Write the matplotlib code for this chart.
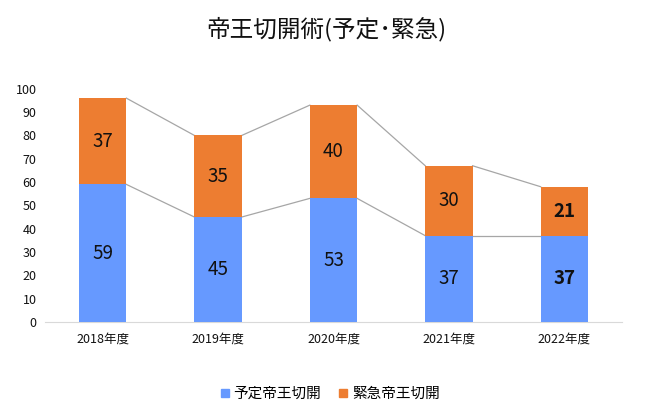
import matplotlib
matplotlib.use("Agg")
import matplotlib.pyplot as plt
from matplotlib.lines import Line2D

plt.rcParams['font.family'] = ['Noto Sans CJK JP', 'DejaVu Sans']

categories = ["2018年度", "2019年度", "2020年度", "2021年度", "2022年度"]
planned = [59, 45, 53, 37, 37]
emergency = [37, 35, 40, 30, 21]
series_names = ["予定帝王切開", "緊急帝王切開"]
title = "帝王切開術(予定･緊急)"
yticks = list(range(0, 101, 10))

blue = "#6699FF"
orange = "#ED7D31"
width = 0.41

fig = plt.figure(figsize=(6.52, 4.17), dpi=100)
ax = fig.add_axes([0.069, 0.228, 0.885, 0.559])

x = list(range(len(categories)))
ax.bar(x, planned, width=width, color=blue, zorder=3)
ax.bar(x, emergency, bottom=planned, width=width, color=orange, zorder=3)

# series lines
totals = [p + e for p, e in zip(planned, emergency)]
for i in range(len(x) - 1):
    for vals in (planned, totals):
        ax.plot([x[i] + width / 2, x[i + 1] - width / 2], [vals[i], vals[i + 1]],
                color="#A6A6A6", lw=0.9, zorder=2)

# data labels
n = len(x)
for i in range(n):
    bold = "bold" if i == n - 1 else "normal"
    ax.text(x[i], planned[i] / 2, str(planned[i]), ha="center", va="center",
            fontsize=13.5, fontweight=bold, color="#111111", zorder=4)
    ax.text(x[i], planned[i] + emergency[i] / 2, str(emergency[i]), ha="center", va="center",
            fontsize=13.5, fontweight=bold, color="#111111", zorder=4)

ax.set_xlim(-0.5, n - 0.5)
ax.set_ylim(0, 100)
ax.set_yticks(yticks)
ax.set_xticks(x)
ax.set_xticklabels(categories)
ax.tick_params(axis="both", length=0, labelsize=9, colors="#111111")
ax.tick_params(axis="x", pad=8)
ax.tick_params(axis="y", pad=6)
for s in ("top", "right", "left"):
    ax.spines[s].set_visible(False)
ax.spines["bottom"].set_color("#D9D9D9")

fig.text(0.5, 0.93, title, ha="center", va="center", fontsize=17, color="#111111")

handles = [Line2D([], [], marker="s", ls="", color=blue, markersize=6),
           Line2D([], [], marker="s", ls="", color=orange, markersize=6)]
fig.legend(handles, series_names, loc="center", bbox_to_anchor=(0.503, 0.056), ncol=2,
           frameon=False, fontsize=10.5, handletextpad=0.0, columnspacing=0.9,
           handlelength=1.2)

fig.savefig("out.png", dpi=100)
